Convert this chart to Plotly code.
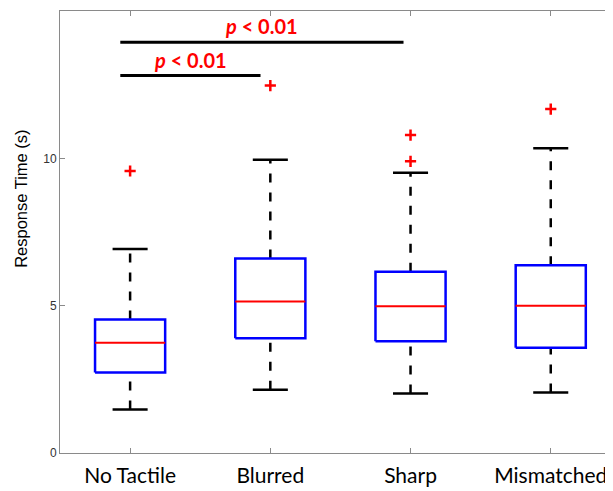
import plotly.graph_objects as go

categories = ["No Tactile", "Blurred", "Sharp", "Mismatched"]
q1 = [2.73, 3.89, 3.79, 3.57]
medians = [3.74, 5.14, 4.98, 5.00]
q3 = [4.53, 6.60, 6.15, 6.37]
lower_whisker = [1.48, 2.15, 2.02, 2.05]
upper_whisker = [6.92, 9.95, 9.51, 10.34]
outliers = [[9.57], [12.47], [10.79, 9.90], [11.67]]

# significance brackets: (x start, x end, level, label)
sig_x0 = [0.93, 0.93]
sig_x1 = [1.93, 2.95]
sig_y = [12.81, 13.94]
sig_text = ["p < 0.01", "p < 0.01"]

BOX_HALF = 0.25
CAP_HALF = 0.125

fig = go.Figure()
positions = list(range(1, len(categories) + 1))

for i, pos in enumerate(positions):
    # whiskers (dashed)
    fig.add_trace(go.Scatter(x=[pos, pos], y=[q3[i], upper_whisker[i]], mode="lines",
                             line=dict(color="black", width=2.5, dash="9px,10px"),
                             hoverinfo="skip", showlegend=False))
    fig.add_trace(go.Scatter(x=[pos, pos], y=[lower_whisker[i], q1[i]], mode="lines",
                             line=dict(color="black", width=2.5, dash="9px,10px"),
                             hoverinfo="skip", showlegend=False))
    # caps
    for v in (upper_whisker[i], lower_whisker[i]):
        fig.add_trace(go.Scatter(x=[pos - CAP_HALF, pos + CAP_HALF], y=[v, v], mode="lines",
                                 line=dict(color="black", width=2.5),
                                 hoverinfo="skip", showlegend=False))
    # box
    fig.add_trace(go.Scatter(x=[pos - BOX_HALF, pos + BOX_HALF, pos + BOX_HALF, pos - BOX_HALF, pos - BOX_HALF],
                             y=[q1[i], q1[i], q3[i], q3[i], q1[i]], mode="lines",
                             line=dict(color="#0000FF", width=2.5),
                             hoverinfo="skip", showlegend=False))
    # median
    fig.add_trace(go.Scatter(x=[pos - BOX_HALF, pos + BOX_HALF], y=[medians[i], medians[i]], mode="lines",
                             line=dict(color="#FF0000", width=2),
                             hoverinfo="skip", showlegend=False))
    # outliers
    fig.add_trace(go.Scatter(x=[pos] * len(outliers[i]), y=outliers[i], mode="markers",
                             marker=dict(symbol="cross-thin", size=8, color="#FF0000",
                                         line=dict(color="#FF0000", width=2.5)),
                             hoverinfo="skip", showlegend=False))

for x0, x1, y, t in zip(sig_x0, sig_x1, sig_y, sig_text):
    fig.add_trace(go.Scatter(x=[x0, x1], y=[y, y], mode="lines",
                             line=dict(color="black", width=3),
                             hoverinfo="skip", showlegend=False))
    label = t.replace("<", "&lt;").replace("p", "<i>p</i>", 1)
    fig.add_annotation(x=(x0 + x1) / 2, y=y, text="<b>" + label + "</b>", showarrow=False,
                       xanchor="center", yanchor="bottom", yshift=2,
                       font=dict(family="Lato", size=20, color="#FF0000"))

fig.add_annotation(xref="paper", yref="paper", x=0, y=0.575, xshift=-39,
                   text="Response Time (s)", textangle=-90, showarrow=False,
                   xanchor="center", yanchor="middle",
                   font=dict(family="Liberation Sans", size=16.5, color="black"))

fig.update_layout(
    width=605, height=483,
    margin=dict(l=52, r=0, t=3, b=38),
    plot_bgcolor="white", paper_bgcolor="white",
    xaxis=dict(range=[0.5, 4.444], tickvals=positions, ticktext=categories,
               showline=True, linecolor="#8a8a8a", linewidth=1, mirror="ticks",
               ticks="inside", ticklen=5, tickcolor="#8a8a8a", showgrid=False, zeroline=False,
               tickfont=dict(family="Lato", size=21, color="black"), ticklabelstandoff=4),
    yaxis=dict(range=[0, 15], tickvals=[0, 5, 10, 15],
               showline=True, linecolor="#8a8a8a", linewidth=1,
               ticks="inside", ticklen=5, tickcolor="#8a8a8a", showgrid=False, zeroline=False,
               tickfont=dict(family="Liberation Sans", size=12, color="#333333")),
)

fig.write_html("out.html")
